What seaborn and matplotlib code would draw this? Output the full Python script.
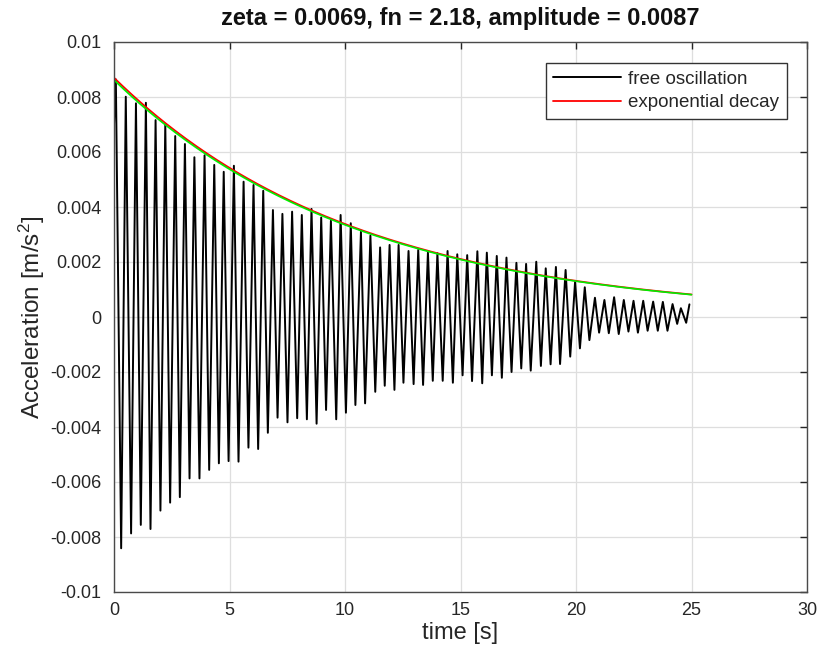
import numpy as np
import pandas as pd
import matplotlib
matplotlib.use("Agg")
import matplotlib.pyplot as plt
import seaborn as sns

# Identified modal parameters
zeta = 0.0069
fn = 2.18
amplitude = 0.0087
# second envelope (fitted through the measured peaks)
fit_amplitude = 0.00862

# Measured free-decay record: times [s] and values [m/s^2] of the positive peaks
peak_t = [0.08, 0.51, 0.95, 1.38, 1.80, 2.22, 2.65, 3.07, 3.48, 3.92, 4.34, 4.75,
          5.19, 5.61, 6.04, 6.46, 6.88, 7.29, 7.71, 8.13, 8.55, 8.97, 9.39, 9.81,
          10.25, 10.69, 11.10, 11.52, 11.93, 12.32, 12.75, 13.17, 13.59, 14.00,
          14.44, 14.86, 15.29, 15.73, 16.14, 16.57, 16.99, 17.42, 17.84, 18.28,
          18.69, 19.13, 19.55, 19.96, 20.38, 20.82, 21.23, 21.65, 22.07, 22.49,
          22.91, 23.34, 23.76, 24.18, 24.54, 24.91]
peak_v = [8.64, 8.01, 7.77, 7.79, 7.16, 7.02, 6.58, 6.29, 5.81, 5.88, 5.53, 5.28,
          5.50, 4.92, 4.80, 4.59, 3.89, 3.75, 3.83, 3.71, 3.93, 3.62, 3.50, 3.71,
          3.41, 3.10, 2.96, 2.53, 2.62, 2.62, 2.40, 2.44, 2.35, 2.32,
          2.40, 2.28, 2.25, 2.39, 2.34, 2.22, 2.16, 1.97, 1.93, 2.01,
          1.77, 1.82, 1.71, 1.28, 1.08, 0.70, 0.62, 0.72, 0.62, 0.59,
          0.59, 0.56, 0.55, 0.47, 0.32, 0.46]

# ... and of the negative troughs
trough_t = [0.31, 0.74, 1.16, 1.58, 2.01, 2.43, 2.85, 3.27, 3.70, 4.12, 4.54, 4.96,
            5.39, 5.82, 6.24, 6.66, 7.08, 7.51, 7.93, 8.35, 8.77, 9.18, 9.62, 10.04,
            10.45, 10.87, 11.31, 11.72, 12.14, 12.53, 12.97, 13.38, 13.80, 14.23,
            14.67, 15.09, 15.50, 15.94, 16.36, 16.79, 17.21, 17.63, 18.04, 18.48,
            18.90, 19.31, 19.75, 20.17, 20.58, 21.00, 21.42, 21.85, 22.27, 22.68,
            23.10, 23.54, 23.96, 24.38, 24.77]
trough_v = [-8.41, -7.87, -7.56, -7.71, -7.04, -6.75, -6.55, -5.87, -5.87, -5.56,
            -5.32, -5.24, -5.26, -4.75, -4.80, -4.21, -3.66, -3.83, -3.68, -3.72,
            -3.88, -3.38, -3.72, -3.48, -3.20, -3.14, -2.72, -2.50, -2.65, -2.39,
            -2.44, -2.47, -2.32, -2.32, -2.39, -2.12, -2.33, -2.41, -2.12, -2.21,
            -2.00, -1.87, -1.95, -1.78, -1.72, -1.71, -1.44, -1.14, -0.84, -0.57,
            -0.59, -0.62, -0.53, -0.57, -0.50, -0.50, -0.50, -0.25, -0.21]

start_t = [0.0]
start_v = [7.00]

x_ticks = [0, 5, 10, 15, 20, 25, 30]
y_ticks = [0.01, 0.008, 0.006, 0.004, 0.002, 0, -0.002, -0.004, -0.006, -0.008, -0.01]
y_tick_labels = ["0.01", "0.008", "0.006", "0.004", "0.002", "0",
                 "-0.002", "-0.004", "-0.006", "-0.008", "-0.01"]

# assemble the signal (values were recorded in 1e-3 m/s^2)
signal = pd.DataFrame({
    "t": start_t + peak_t + trough_t,
    "a": [v * 1e-3 for v in start_v + peak_v + trough_v],
}).sort_values("t")

# exponential envelopes
t_env = np.linspace(0, 25, 400)
decay = pd.DataFrame({"t": t_env,
                      "a": amplitude * np.exp(-zeta * 2 * np.pi * fn * t_env)})
fit = pd.DataFrame({"t": t_env,
                    "a": fit_amplitude * np.exp(-zeta * 2 * np.pi * fn * t_env)})

sns.set_theme(style="white")
plt.rcParams["font.family"] = ["Liberation Sans", "DejaVu Sans"]
plt.rcParams["mathtext.fontset"] = "custom"
plt.rcParams["mathtext.rm"] = "Liberation Sans"
plt.rcParams["mathtext.it"] = "Liberation Sans:italic"

fig = plt.figure(figsize=(8.25, 6.6), dpi=100)
ax = fig.add_axes([114 / 825, 68 / 660, 693 / 825, 550 / 660])

sns.lineplot(data=signal, x="t", y="a", ax=ax, color="black", linewidth=1.4,
             estimator=None, sort=False, label="free oscillation")
sns.lineplot(data=decay, x="t", y="a", ax=ax, color="#ff0000", linewidth=1.3,
             estimator=None, label="exponential decay")
sns.lineplot(data=fit, x="t", y="a", ax=ax, color="#00ee00", linewidth=1.2,
             estimator=None, label="_nolegend_")

ax.set_xlim(0, 30)
ax.set_ylim(-0.01, 0.01)
ax.set_xticks(x_ticks)
ax.set_xticklabels([str(v) for v in x_ticks])
ax.set_yticks(y_ticks)
ax.set_yticklabels(y_tick_labels)

ax.grid(True, color="#dedede", linewidth=0.9)
ax.set_axisbelow(True)
for side in ax.spines.values():
    side.set_color("#4a4a4a")
    side.set_linewidth(1.0)
ax.tick_params(direction="in", length=5, width=1.0, color="#262626",
               top=True, right=True, labelsize=13, labelcolor="#262626")
ax.tick_params(axis="y", pad=9)
ax.tick_params(axis="x", pad=7)

ax.set_xlabel("time [s]", fontsize=17, color="#262626", labelpad=2)
ax.set_ylabel(r"Acceleration [m/s$^2$]", fontsize=17.5, color="#262626", labelpad=2)
ax.set_title(f"zeta = {zeta}, fn = {fn}, amplitude = {amplitude}",
             fontsize=17, fontweight="bold", color="#111111", pad=12)

leg = ax.legend(loc="upper right", bbox_to_anchor=(0.971, 0.962), borderaxespad=0,
                fontsize=13.5, frameon=True, fancybox=False, framealpha=1,
                edgecolor="#333333", handlelength=3.6, handletextpad=0.4,
                labelspacing=0.35, borderpad=0.4)
leg.get_frame().set_linewidth(1.0)
for text in leg.get_texts():
    text.set_color("#262626")

fig.savefig("out.png", dpi=100)
